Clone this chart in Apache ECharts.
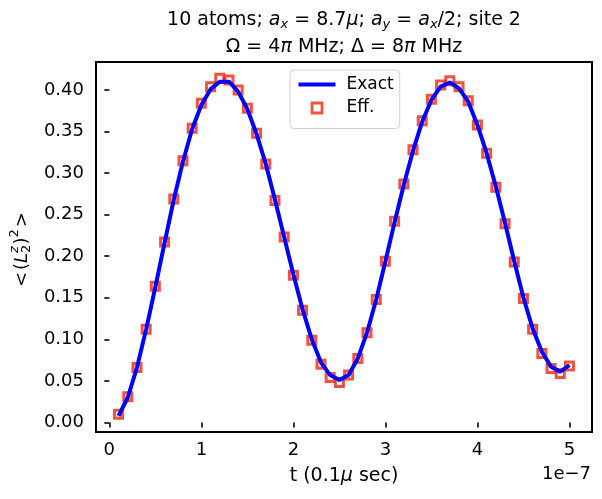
<!DOCTYPE html>
<html><head><meta charset="utf-8">
<script src="https://cdn.jsdelivr.net/npm/echarts@6/dist/echarts.min.js"></script>
<style>html,body{margin:0;padding:0;background:#fff}#c{width:602px;height:499px}</style>
</head><body><div id="c"></div>
<script>
// time in units of 1e-7 s
const tValues = [0.1,0.2,0.3,0.4,0.5,0.6,0.7,0.8,0.9,1.0,
                 1.1,1.2,1.3,1.4,1.5,1.6,1.7,1.8,1.9,2.0,
                 2.1,2.2,2.3,2.4,2.5,2.6,2.7,2.8,2.9,3.0,
                 3.1,3.2,3.3,3.4,3.5,3.6,3.7,3.8,3.9,4.0,
                 4.1,4.2,4.3,4.4,4.5,4.6,4.7,4.8,4.9,5.0];
const exactValues = [0.008,0.030,0.066,0.112,0.163,0.216,0.268,0.314,0.353,0.382,
                     0.401,0.410,0.410,0.398,0.377,0.347,0.311,0.268,0.223,0.178,
                     0.136,0.100,0.072,0.057,0.051,0.057,0.077,0.108,0.148,0.194,
                     0.241,0.286,0.327,0.362,0.388,0.404,0.409,0.402,0.386,0.358,
                     0.324,0.284,0.240,0.194,0.150,0.113,0.085,0.067,0.061,0.069];
const effValues = [0.010,0.031,0.066,0.112,0.164,0.217,0.269,0.315,0.354,0.384,
                   0.404,0.414,0.412,0.400,0.378,0.348,0.311,0.267,0.223,0.177,
                   0.135,0.099,0.070,0.054,0.048,0.057,0.077,0.108,0.148,0.194,
                   0.242,0.287,0.328,0.363,0.389,0.406,0.411,0.404,0.387,0.358,
                   0.324,0.283,0.239,0.193,0.149,0.112,0.083,0.065,0.059,0.068];
const xTickValues = [0,1,2,3,4,5];
const yTickValues = [0,0.05,0.10,0.15,0.20,0.25,0.30,0.35,0.40];
const seriesNames = ['Exact','Eff.'];
const xOffsetText = '1e\u22127';

const FF = 'DejaVu Sans';
const RED = '#f2250e';
const chart = echarts.init(document.getElementById('c'), null, {renderer:'canvas'});

const exactData = tValues.map((t,i)=>[t, exactValues[i]]);
const effData = tValues.map((t,i)=>[t, effValues[i]]);

const subStyle = {fontSize:13, fontFamily:FF, fontStyle:'italic', color:'#000', padding:[9,0,0,0], verticalAlign:'bottom'};
const nStyle = {fontSize:19, fontFamily:FF, color:'#000'};
const iStyle = {fontSize:19, fontFamily:FF, fontStyle:'italic', color:'#000'};

const option = {
  backgroundColor:'#fff',
  animation:false,
  grid:{left:96, top:62, right:10, bottom:67, show:true, borderColor:'#000', borderWidth:2, backgroundColor:'transparent'},
  xAxis:{type:'value', min:-0.145, max:5.245,
    axisLine:{show:false}, splitLine:{show:false},
    axisTick:{inside:false, customValues:xTickValues, length:5, lineStyle:{color:'#000', width:1.6}},
    axisLabel:{customValues:xTickValues, formatter:v=>String(v), color:'#000', fontSize:18, fontFamily:FF, margin:9}},
  yAxis:{type:'value', min:-0.0115, max:0.4337,
    axisLine:{show:false}, splitLine:{show:false},
    axisTick:{inside:false, customValues:yTickValues, length:5, lineStyle:{color:'#000', width:1.6}},
    axisLabel:{customValues:yTickValues, formatter:v=>v.toFixed(2), color:'#000', fontSize:18, fontFamily:FF, margin:12}},
  legend:{orient:'vertical', left:290, top:70, padding:[6,6,12,6], itemGap:6.5, itemWidth:37, itemHeight:10,
    borderColor:'#d0d0d0', borderWidth:1, borderRadius:4, backgroundColor:'rgba(255,255,255,0.8)',
    formatter:name=>'{g|}{t|'+name+'}',
    textStyle:{fontSize:17, fontFamily:FF, color:'#000',
      rich:{g:{width:6}, t:{fontSize:17, fontFamily:FF, color:'#000'}}},
    data:[{name:seriesNames[0], itemStyle:{color:'rgba(0,0,0,0)', borderColor:'rgba(0,0,0,0)', opacity:0}, lineStyle:{color:'#0000ff', width:4}},
          {name:seriesNames[1], icon:'path://M0,0 M37,10 M13.5,0 L23.5,0 L23.5,10 L13.5,10 Z',
           itemStyle:{color:'none', borderColor:RED, borderWidth:2.8}}]},
  series:[
    {name:seriesNames[1], type:'scatter', data:effData, symbol:'rect', symbolSize:8, z:2,
     itemStyle:{color:'none', borderColor:RED, borderWidth:3}},
    {name:seriesNames[0], type:'line', data:exactData, symbol:'none', showSymbol:false, z:3,
     lineStyle:{color:'#0000ff', width:4}, itemStyle:{color:'#0000ff'}}
  ],
  graphic:[
    {type:'text', x:344, y:20, style:{
      text:'{n|10 atoms; }{i|a}{s|x}{n| = 8.7}{i|μ}{n|; }{i|a}{s|y}{n| = }{i|a}{s|x}{n|/2; site 2}',
      rich:{n:nStyle, i:iStyle, s:subStyle}, textAlign:'center', textVerticalAlign:'middle'}},
    {type:'text', x:344, y:47, style:{
      text:'{n|Ω = 4}{i|π}{n| MHz; Δ = 8}{i|π}{n| MHz}',
      rich:{n:nStyle, i:iStyle}, textAlign:'center', textVerticalAlign:'middle'}},
    {type:'text', x:344, y:476, style:{
      text:'{n|t (0.1}{i|μ}{n| sec)}', rich:{n:nStyle, i:iStyle}, textAlign:'center', textVerticalAlign:'middle'}},
    {type:'text', x:591, y:474, style:{text:xOffsetText, font:'18px DejaVu Sans', fill:'#000', textAlign:'right', textVerticalAlign:'middle'}},
    {type:'group', x:22, y:250, rotation:Math.PI/2, children:[
      {type:'text', x:-37, y:0, style:{text:'<', font:'18px DejaVu Sans', fill:'#000', textAlign:'left', textVerticalAlign:'middle'}},
      {type:'text', x:-19.9, y:0, style:{text:'(', font:'18px DejaVu Sans', fill:'#000', textAlign:'left', textVerticalAlign:'middle'}},
      {type:'text', x:-12.9, y:0, style:{text:'L', font:'italic 18px DejaVu Sans', fill:'#000', textAlign:'left', textVerticalAlign:'middle'}},
      {type:'text', x:-2.9, y:5, style:{text:'2', font:'13px DejaVu Sans', fill:'#000', textAlign:'left', textVerticalAlign:'middle'}},
      {type:'text', x:-2.9, y:-7, style:{text:'z', font:'italic 13px DejaVu Sans', fill:'#000', textAlign:'left', textVerticalAlign:'middle'}},
      {type:'text', x:5.4, y:0, style:{text:')', font:'18px DejaVu Sans', fill:'#000', textAlign:'left', textVerticalAlign:'middle'}},
      {type:'text', x:12.4, y:-7, style:{text:'2', font:'13px DejaVu Sans', fill:'#000', textAlign:'left', textVerticalAlign:'middle'}},
      {type:'text', x:22.7, y:0, style:{text:'>', font:'18px DejaVu Sans', fill:'#000', textAlign:'left', textVerticalAlign:'middle'}}
    ]}
  ]
};
chart.setOption(option);
</script></body></html>
